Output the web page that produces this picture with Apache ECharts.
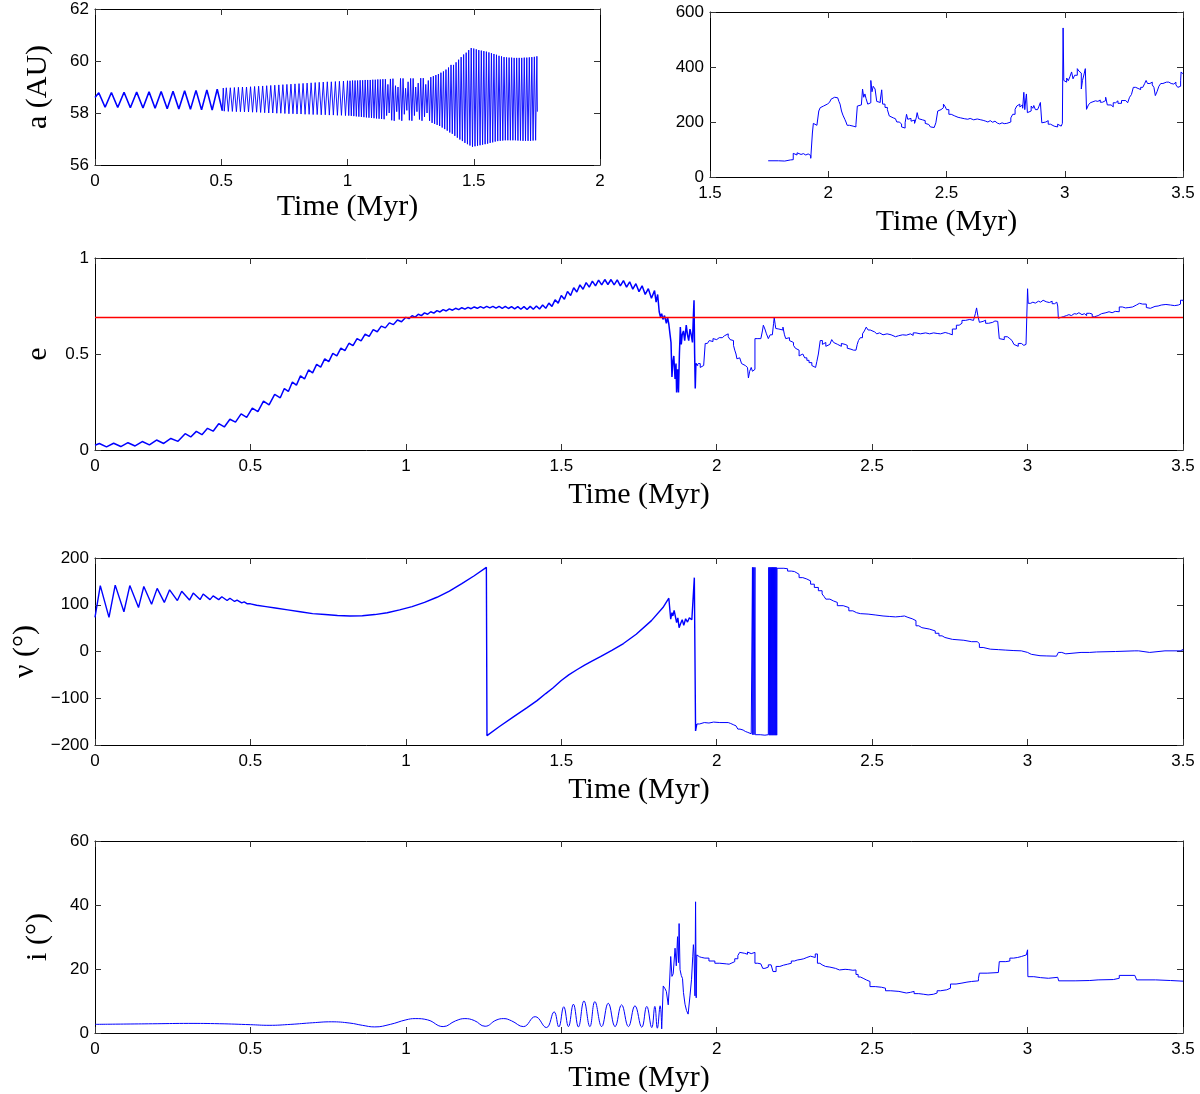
<!DOCTYPE html>
<html><head><meta charset="utf-8">
<script src="https://cdn.jsdelivr.net/npm/echarts@6/dist/echarts.min.js"></script>
<style>html,body{margin:0;padding:0;background:#fff}#c{width:1200px;height:1094px}</style>
</head><body><div id="c"></div><script>
// ---- data (time in Myr, value) ----
const aEarly = [[0,58.6],[0.015,58.78],[0.04,58.22],[0.065,58.79],[0.09,58.21],[0.115,58.8],[0.14,58.2],[0.165,58.81],[0.19,58.19],[0.214,58.82],[0.238,58.18],[0.262,58.83],[0.286,58.16],[0.309,58.84],[0.332,58.15],[0.355,58.86],[0.378,58.14],[0.4,58.87],[0.422,58.12],[0.443,58.89],[0.464,58.11],[0.484,58.92],[0.504,58.09]];

const aBand = [[0.504,58.09],[0.508,58.96],[0.512,58.07],[0.52,58.97],[0.528,58.06],[0.536,58.97],[0.544,58.06],[0.552,58.98],[0.56,58.05],[0.568,58.99],[0.576,58.05],[0.584,59.0],[0.592,58.04],[0.6,59.0],[0.608,58.04],[0.616,59.01],[0.624,58.03],[0.632,59.02],[0.64,58.03],[0.648,59.03],[0.656,58.02],[0.664,59.04],[0.672,58.01],[0.68,59.05],[0.688,58.0],[0.696,59.06],[0.704,58.0],[0.712,59.07],[0.72,57.99],[0.728,59.08],[0.736,57.99],[0.744,59.09],[0.752,57.98],[0.76,59.1],[0.768,57.97],[0.776,59.11],[0.784,57.97],[0.792,59.12],[0.8,57.96],[0.808,59.13],[0.816,57.96],[0.824,59.14],[0.832,57.95],[0.84,59.15],[0.848,57.95],[0.856,59.16],[0.864,57.94],[0.872,59.17],[0.88,57.94],[0.888,59.18],[0.896,57.93],[0.904,59.19],[0.912,57.93],[0.92,59.2],[0.928,57.92],[0.936,59.2],[0.944,57.92],[0.952,59.21],[0.96,57.91],[0.968,59.22],[0.976,57.91],[0.984,59.23],[0.992,57.9],[1.0,59.24],[1.005,57.9],[1.01,59.24],[1.015,57.89],[1.02,59.25],[1.025,57.88],[1.03,59.25],[1.035,57.87],[1.04,59.25],[1.045,57.86],[1.05,59.26],[1.055,57.85],[1.06,59.26],[1.065,57.84],[1.07,59.27],[1.075,57.83],[1.08,59.27],[1.085,57.82],[1.09,59.27],[1.095,57.81],[1.1,59.28],[1.105,57.8],[1.11,59.28],[1.115,57.79],[1.12,59.29],[1.125,57.78],[1.13,59.29],[1.135,57.77],[1.14,59.3],[1.145,57.76],[1.15,59.3],[1.155,57.9],[1.16,59.1],[1.165,58.0],[1.17,59.31],[1.175,57.72],[1.18,59.32],[1.185,57.7],[1.19,59.05],[1.195,58.05],[1.2,59.0],[1.205,57.75],[1.21,59.33],[1.215,57.7],[1.22,59.33],[1.225,57.95],[1.23,58.95],[1.235,58.1],[1.24,59.2],[1.245,57.72],[1.25,59.33],[1.255,57.7],[1.26,59.33],[1.265,57.9],[1.27,59.0],[1.275,58.05],[1.28,59.15],[1.285,57.75],[1.29,59.34],[1.295,57.7],[1.3,59.34],[1.305,57.85],[1.31,59.1],[1.315,58.0],[1.32,59.25],[1.325,57.7],[1.33,59.38],[1.335,57.62],[1.34,59.42],[1.345,57.58],[1.35,59.46],[1.355,57.54],[1.36,59.5],[1.365,57.5],[1.37,59.55],[1.375,57.44],[1.38,59.6],[1.385,57.38],[1.39,59.67],[1.395,57.32],[1.4,59.75],[1.405,57.25],[1.41,59.85],[1.415,57.2],[1.42,59.85],[1.425,57.12],[1.43,59.95],[1.435,57.05],[1.44,60.05],[1.445,56.98],[1.45,60.15],[1.455,56.92],[1.46,60.25],[1.465,56.85],[1.47,60.32],[1.475,56.8],[1.48,60.42],[1.485,56.75],[1.49,60.5],[1.495,56.7],[1.5,60.48],[1.505,56.72],[1.51,60.45],[1.515,56.74],[1.52,60.42],[1.525,56.76],[1.53,60.4],[1.535,56.78],[1.54,60.38],[1.545,56.8],[1.55,60.36],[1.555,56.82],[1.56,60.33],[1.565,56.85],[1.57,60.3],[1.575,56.87],[1.58,60.27],[1.585,56.9],[1.59,60.24],[1.595,56.92],[1.6,60.2],[1.605,56.93],[1.61,60.18],[1.615,56.94],[1.62,60.15],[1.625,56.95],[1.63,60.14],[1.635,56.95],[1.64,60.13],[1.645,56.95],[1.65,60.13],[1.655,56.95],[1.66,60.12],[1.665,56.95],[1.67,60.12],[1.675,56.94],[1.68,60.12],[1.685,56.94],[1.69,60.12],[1.695,56.93],[1.7,60.13],[1.705,56.93],[1.71,60.13],[1.715,56.93],[1.72,60.14],[1.725,56.93],[1.73,60.15],[1.735,56.94],[1.74,60.16],[1.745,56.95],[1.75,60.18],[1.752,58.05]];

const aLate = [[1.746,59],[1.79,58],[1.816,62],[1.84,63],[1.852,86],[1.86,80],[1.868,88],[1.875,82],[1.885,85],[1.895,80],[1.905,84],[1.915,78],[1.926,68],[1.93,75],[1.933,160],[1.937,195],[1.945,188],[1.952,192],[1.957,190],[1.96,240],[1.966,252],[1.972,258],[1.98,262],[1.988,265],[1.996,271],[2.005,278],[2.012,283],[2.02,290],[2.027,296],[2.033,288],[2.04,292],[2.045,275],[2.05,265],[2.056,240],[2.062,225],[2.07,210],[2.075,200],[2.08,188],[2.09,192],[2.097,185],[2.105,178],[2.11,182],[2.117,190],[2.123,258],[2.13,262],[2.14,260],[2.145,320],[2.15,290],[2.155,302],[2.16,285],[2.167,265],[2.172,270],[2.18,351],[2.185,310],[2.19,330],[2.198,320],[2.205,275],[2.21,271],[2.22,280],[2.226,317],[2.23,265],[2.24,253],[2.25,245],[2.258,222],[2.265,215],[2.275,212],[2.284,213],[2.29,200],[2.3,193],[2.31,182],[2.318,178],[2.325,197],[2.331,228],[2.336,210],[2.342,213],[2.35,203],[2.358,207],[2.365,195],[2.372,215],[2.376,234],[2.382,212],[2.39,208],[2.398,203],[2.404,205],[2.41,195],[2.418,191],[2.425,185],[2.432,182],[2.44,180],[2.448,183],[2.455,197],[2.463,240],[2.47,245],[2.477,252],[2.487,265],[2.495,255],[2.5,245],[2.51,228],[2.52,222],[2.535,217],[2.549,215],[2.56,212],[2.575,210],[2.59,213],[2.6,208],[2.615,211],[2.63,208],[2.645,206],[2.655,203],[2.666,200],[2.675,205],[2.685,199],[2.695,203],[2.705,196],[2.715,193],[2.725,197],[2.735,194],[2.744,195],[2.755,190],[2.762,200],[2.772,215],[2.78,228],[2.79,246],[2.797,258],[2.803,265],[2.81,255],[2.816,262],[2.822,250],[2.827,308],[2.831,245],[2.836,290],[2.838,302],[2.842,234],[2.85,240],[2.858,258],[2.865,250],[2.869,260],[2.876,245],[2.885,240],[2.89,255],[2.897,271],[2.9,265],[2.903,197],[2.91,200],[2.92,205],[2.93,192],[2.94,197],[2.947,185],[2.955,190],[2.962,182],[2.97,192],[2.978,185],[2.985,192],[2.99,195],[2.993,542],[2.996,351],[3.0,345],[3.008,360],[3.015,350],[3.022,365],[3.029,382],[3.035,357],[3.042,370],[3.053,394],[3.06,385],[3.066,378],[3.07,320],[3.075,351],[3.082,375],[3.087,394],[3.092,246],[3.1,262],[3.108,270],[3.115,277],[3.13,275],[3.14,280],[3.15,272],[3.16,278],[3.173,290],[3.18,262],[3.196,255],[3.205,270],[3.215,277],[3.225,268],[3.24,278],[3.258,280],[3.266,270],[3.274,290],[3.282,300],[3.29,326],[3.3,322],[3.31,318],[3.321,326],[3.33,330],[3.338,340],[3.344,351],[3.35,340],[3.36,345],[3.37,335],[3.377,326],[3.383,296],[3.39,310],[3.398,330],[3.406,340],[3.415,345],[3.43,345],[3.44,340],[3.45,338],[3.461,345],[3.47,335],[3.478,326],[3.484,330],[3.49,350],[3.492,382],[3.497,375],[3.5,378]];

const eOsc = [[0,0.025],[0.014,0.034],[0.037,0.016],[0.06,0.035],[0.083,0.018],[0.106,0.038],[0.129,0.021],[0.152,0.044],[0.175,0.027],[0.198,0.052],[0.221,0.034],[0.244,0.06],[0.267,0.045],[0.29,0.085],[0.308,0.068],[0.326,0.097],[0.344,0.08],[0.362,0.113],[0.38,0.098],[0.398,0.137],[0.416,0.12],[0.434,0.16],[0.452,0.145],[0.47,0.188],[0.488,0.17],[0.506,0.218],[0.524,0.2],[0.542,0.255],[0.56,0.235],[0.578,0.29],[0.596,0.272],[0.609,0.32],[0.622,0.305],[0.635,0.354],[0.648,0.338],[0.661,0.386],[0.674,0.37],[0.687,0.417],[0.7,0.402],[0.713,0.446],[0.726,0.432],[0.739,0.475],[0.752,0.46],[0.765,0.503],[0.778,0.49],[0.791,0.531],[0.804,0.518],[0.817,0.556],[0.83,0.544],[0.843,0.58],[0.856,0.568],[0.869,0.603],[0.882,0.592],[0.895,0.627],[0.908,0.616],[0.921,0.645],[0.934,0.636],[0.947,0.662],[0.96,0.653],[0.973,0.677],[0.986,0.668],[1.0,0.691],[1.01,0.684],[1.02,0.699],[1.03,0.692],[1.04,0.707],[1.05,0.7],[1.06,0.714],[1.07,0.707],[1.08,0.72],[1.09,0.713],[1.1,0.726],[1.11,0.719],[1.12,0.731],[1.13,0.724],[1.14,0.735],[1.15,0.728],[1.16,0.738],[1.17,0.731],[1.18,0.741],[1.19,0.734],[1.2,0.743],[1.21,0.736],[1.22,0.745],[1.23,0.738],[1.24,0.747],[1.25,0.739],[1.26,0.748],[1.27,0.74],[1.28,0.748],[1.29,0.739],[1.3,0.748],[1.31,0.738],[1.32,0.748],[1.33,0.737],[1.34,0.747],[1.35,0.735],[1.36,0.747],[1.37,0.733],[1.38,0.747],[1.39,0.732],[1.4,0.748],[1.41,0.733],[1.42,0.75],[1.43,0.734],[1.44,0.755],[1.45,0.738],[1.46,0.765],[1.47,0.748],[1.48,0.782],[1.49,0.765],[1.5,0.805],[1.51,0.785],[1.52,0.826],[1.53,0.805],[1.54,0.845],[1.55,0.823],[1.56,0.86],[1.57,0.837],[1.58,0.872],[1.59,0.848],[1.6,0.88],[1.61,0.855],[1.62,0.885],[1.63,0.86],[1.64,0.888],[1.65,0.862],[1.66,0.888],[1.67,0.86],[1.68,0.886],[1.69,0.855],[1.7,0.882],[1.71,0.848],[1.72,0.876],[1.73,0.838],[1.74,0.866],[1.75,0.825],[1.76,0.855],[1.77,0.81],[1.78,0.84],[1.79,0.79],[1.8,0.83],[1.805,0.77],[1.81,0.81],[1.815,0.72],[1.819,0.694],[1.823,0.71],[1.827,0.68],[1.832,0.7],[1.838,0.66],[1.842,0.69],[1.846,0.655],[1.85,0.6],[1.853,0.56],[1.856,0.38],[1.859,0.46],[1.862,0.49],[1.866,0.37],[1.869,0.45],[1.871,0.3],[1.874,0.42],[1.877,0.3],[1.88,0.5],[1.883,0.64],[1.886,0.55],[1.889,0.6],[1.893,0.62],[1.897,0.57],[1.902,0.65],[1.906,0.6],[1.91,0.57],[1.914,0.63],[1.918,0.6],[1.922,0.56],[1.925,0.7],[1.927,0.78],[1.929,0.5],[1.931,0.32],[1.933,0.45],[1.936,0.46],[1.94,0.44]];

const eLate = [[1.94,0.45],[1.947,0.43],[1.953,0.44],[1.958,0.43],[1.963,0.555],[1.97,0.56],[1.976,0.57],[1.981,0.565],[1.988,0.58],[1.994,0.575],[2.0,0.585],[2.008,0.59],[2.014,0.585],[2.018,0.595],[2.025,0.6],[2.031,0.605],[2.037,0.59],[2.043,0.575],[2.049,0.57],[2.054,0.545],[2.058,0.52],[2.062,0.5],[2.065,0.475],[2.07,0.48],[2.074,0.47],[2.08,0.45],[2.086,0.44],[2.092,0.43],[2.099,0.42],[2.102,0.375],[2.106,0.41],[2.111,0.43],[2.115,0.41],[2.12,0.42],[2.123,0.58],[2.13,0.585],[2.136,0.58],[2.142,0.59],[2.147,0.62],[2.15,0.65],[2.155,0.63],[2.16,0.605],[2.166,0.58],[2.172,0.6],[2.179,0.61],[2.183,0.66],[2.185,0.69],[2.188,0.655],[2.19,0.633],[2.196,0.63],[2.2,0.62],[2.206,0.625],[2.213,0.64],[2.218,0.6],[2.222,0.58],[2.228,0.585],[2.234,0.57],[2.24,0.56],[2.247,0.545],[2.253,0.53],[2.259,0.52],[2.265,0.49],[2.271,0.5],[2.277,0.505],[2.283,0.48],[2.29,0.467],[2.297,0.455],[2.306,0.44],[2.312,0.43],[2.318,0.43],[2.322,0.46],[2.327,0.5],[2.333,0.57],[2.34,0.55],[2.346,0.56],[2.351,0.54],[2.357,0.55],[2.364,0.555],[2.37,0.575],[2.376,0.56],[2.382,0.55],[2.389,0.545],[2.395,0.54],[2.401,0.555],[2.407,0.55],[2.413,0.545],[2.42,0.53],[2.426,0.525],[2.432,0.52],[2.44,0.52],[2.448,0.523],[2.452,0.55],[2.456,0.57],[2.462,0.585],[2.469,0.605],[2.475,0.62],[2.481,0.64],[2.487,0.625],[2.494,0.615],[2.5,0.615],[2.508,0.605],[2.515,0.61],[2.524,0.6],[2.535,0.605],[2.548,0.6],[2.561,0.59],[2.575,0.595],[2.585,0.6],[2.598,0.598],[2.61,0.605],[2.623,0.597],[2.632,0.61],[2.641,0.605],[2.655,0.61],[2.672,0.605],[2.685,0.61],[2.698,0.607],[2.709,0.605],[2.72,0.612],[2.735,0.607],[2.746,0.6],[2.758,0.63],[2.771,0.65],[2.78,0.66],[2.789,0.675],[2.8,0.68],[2.814,0.686],[2.82,0.675],[2.826,0.67],[2.832,0.71],[2.836,0.74],[2.84,0.7],[2.845,0.665],[2.85,0.67],[2.857,0.676],[2.865,0.66],[2.875,0.65],[2.88,0.665],[2.888,0.672],[2.895,0.67],[2.904,0.668],[2.909,0.58],[2.915,0.575],[2.925,0.59],[2.935,0.58],[2.943,0.57],[2.95,0.575],[2.956,0.55],[2.962,0.54],[2.97,0.555],[2.98,0.545],[2.988,0.55],[2.995,0.545],[3.0,0.84],[3.002,0.764],[3.01,0.77],[3.017,0.765],[3.025,0.775],[3.035,0.77],[3.042,0.78],[3.05,0.772],[3.06,0.768],[3.07,0.775],[3.079,0.762],[3.087,0.77],[3.094,0.78],[3.097,0.75],[3.099,0.686],[3.105,0.695],[3.116,0.7],[3.125,0.705],[3.133,0.7],[3.141,0.71],[3.15,0.708],[3.158,0.715],[3.165,0.705],[3.175,0.71],[3.183,0.7],[3.19,0.712],[3.2,0.708],[3.208,0.694],[3.215,0.7],[3.227,0.71],[3.238,0.715],[3.252,0.72],[3.262,0.715],[3.272,0.722],[3.282,0.72],[3.295,0.745],[3.305,0.74],[3.315,0.742],[3.326,0.745],[3.338,0.755],[3.35,0.764],[3.36,0.76],[3.37,0.758],[3.375,0.76],[3.382,0.742],[3.387,0.738],[3.395,0.745],[3.4,0.748],[3.41,0.75],[3.42,0.755],[3.43,0.758],[3.445,0.755],[3.46,0.752],[3.473,0.755],[3.485,0.76],[3.492,0.78],[3.5,0.775]];

const eCritical = 0.69;

const nuEarly = [[0,73],[0.017,141],[0.045,73],[0.065,142],[0.093,85],[0.112,141],[0.14,94],[0.157,139],[0.182,101],[0.2,135],[0.223,105],[0.24,132],[0.265,109],[0.279,129],[0.304,110],[0.316,125],[0.338,111],[0.348,123],[0.37,111],[0.38,119],[0.398,111],[0.408,117],[0.425,109],[0.434,114],[0.449,107],[0.457,110],[0.472,104],[0.48,106],[0.49,102],[0.5,102],[0.52,99],[0.55,96],[0.58,93],[0.62,89],[0.66,85],[0.7,81],[0.74,79],[0.78,77],[0.82,76],[0.86,76.5],[0.9,79],[0.94,83],[0.98,89],[1.02,96],[1.06,105],[1.1,116],[1.14,129],[1.18,145],[1.22,162],[1.259,180],[1.261,-180],[1.3,-161],[1.346,-140],[1.39,-120],[1.422,-105],[1.45,-90],[1.473,-78],[1.5,-62],[1.524,-50],[1.55,-39],[1.575,-29],[1.6,-20],[1.626,-11],[1.664,3],[1.7,17],[1.741,37],[1.79,66],[1.827,94],[1.846,114],[1.852,69],[1.856,83],[1.859,76],[1.863,88],[1.871,62],[1.875,72],[1.879,51],[1.884,60],[1.889,68],[1.894,56],[1.9,70],[1.906,63],[1.912,72],[1.92,68],[1.926,69],[1.928,158],[1.932,-170],[1.936,-155]];

const nuLate = [[1.936,-155],[1.945,-152],[1.96,-153],[1.975,-151],[1.99,-152],[2.01,-152],[2.037,-154],[2.045,-157],[2.055,-159],[2.062,-163],[2.068,-166],[2.075,-168],[2.085,-171],[2.092,-173],[2.1,-176],[2.111,-178],[2.115,180],[2.116,-178],[2.119,180],[2.12,-178],[2.123,180],[2.124,-178],[2.14,-179],[2.155,-178],[2.166,-178],[2.1675,180],[2.169,-179],[2.1705,180],[2.172,-179],[2.1735,180],[2.175,-179],[2.1765,180],[2.178,-179],[2.1795,180],[2.181,-179],[2.1825,180],[2.184,-179],[2.1855,180],[2.187,-179],[2.1885,180],[2.19,-179],[2.1915,180],[2.193,-179],[2.194,178],[2.216,177],[2.228,172],[2.24,171],[2.25,168],[2.258,165],[2.265,158],[2.277,155],[2.29,151],[2.302,144],[2.314,137],[2.327,130],[2.339,123],[2.345,118],[2.351,112],[2.364,108],[2.376,105],[2.388,98],[2.407,94],[2.425,87],[2.438,83],[2.45,81],[2.462,80],[2.487,78],[2.512,76],[2.535,75],[2.555,74],[2.575,75],[2.592,76],[2.604,73],[2.615,70],[2.629,66],[2.641,55],[2.65,51],[2.66,48],[2.684,44],[2.703,39],[2.715,33.5],[2.725,30],[2.734,26],[2.758,24],[2.795,21],[2.82,21],[2.838,17],[2.845,8.6],[2.857,5],[2.88,4],[2.906,3],[2.93,2],[2.956,1.4],[2.98,-2],[3.0,-6],[3.012,-9],[3.04,-9.5],[3.062,-10],[3.093,-11],[3.099,-2],[3.11,-5],[3.123,-2],[3.172,-2],[3.2,-1],[3.222,0],[3.283,1.4],[3.345,1.4],[3.357,-2],[3.393,1.4],[3.442,1.4],[3.491,4],[3.5,2]];

const incSmooth = [[0,2.7],[0.1,2.8],[0.2,2.9],[0.3,3.0],[0.4,2.9],[0.5,2.6],[0.56,2.4],[0.63,2.7],[0.7,3.2],[0.76,3.5],[0.82,3.1],[0.86,2.4],[0.9,1.9],[0.95,2.7],[1.0,4.1],[1.03,4.5],[1.07,4.1],[1.12,2.0],[1.16,3.8],[1.19,4.5],[1.22,3.9],[1.255,2.1],[1.29,4.0],[1.315,4.5],[1.34,3.8],[1.378,2.0],[1.416,5.1],[1.452,1.7],[1.477,6.6],[1.492,1.9],[1.508,8.2],[1.523,2.0],[1.539,9.0],[1.555,1.9],[1.573,10.0],[1.592,2.0],[1.608,9.8],[1.63,2.0],[1.651,9.3],[1.673,2.0],[1.694,8.8],[1.716,2.0],[1.737,8.5],[1.759,1.8],[1.775,8.3],[1.791,1.7],[1.801,8.3],[1.809,1.5],[1.818,8.5],[1.823,1.3]];

const incSpiky = [[1.823,1.3],[1.828,14.7],[1.834,13.8],[1.838,13.0],[1.844,8.8],[1.848,15],[1.852,23.9],[1.856,17.7],[1.86,18.5],[1.866,26.5],[1.87,21],[1.874,30.1],[1.877,22],[1.879,34.2],[1.882,19.8],[1.886,18],[1.89,17],[1.893,12.7],[1.898,9],[1.903,7.0],[1.908,5.9],[1.914,11.6],[1.919,16.8],[1.923,24],[1.925,27.6],[1.927,25],[1.93,11.6],[1.932,41.0],[1.934,11],[1.936,24.4],[1.945,23.8],[1.952,23.6],[1.962,23.4]];

const incLate = [[1.962,23.4],[1.975,22.5],[1.994,21.8],[2.01,21.6],[2.031,21.5],[2.04,21.9],[2.049,22.3],[2.058,23.2],[2.068,24.2],[2.074,25.2],[2.08,24.9],[2.09,24.6],[2.099,25.3],[2.105,24.8],[2.111,25.2],[2.123,21.8],[2.132,21.6],[2.142,21.3],[2.148,20.2],[2.155,20.6],[2.166,21.3],[2.175,21.0],[2.181,19.2],[2.191,20.8],[2.203,21.2],[2.215,21.5],[2.228,21.8],[2.24,22.5],[2.25,22.8],[2.259,23.4],[2.265,23.0],[2.271,23.2],[2.28,23.6],[2.29,24.0],[2.302,23.6],[2.317,24.7],[2.324,21.8],[2.332,21.3],[2.339,20.8],[2.35,20.6],[2.364,20.2],[2.382,19.7],[2.395,19.9],[2.413,19.8],[2.425,19.6],[2.438,19.7],[2.448,18.3],[2.455,17.5],[2.462,17.1],[2.471,16.6],[2.481,16.1],[2.493,14.5],[2.51,14.3],[2.53,14.0],[2.543,13.2],[2.56,13.0],[2.586,12.5],[2.61,12.7],[2.623,13.0],[2.635,12.3],[2.65,12.1],[2.666,11.9],[2.68,12.1],[2.697,12.5],[2.709,13.2],[2.72,13.5],[2.74,14.0],[2.752,15.3],[2.77,15.6],[2.789,15.9],[2.805,16.1],[2.82,16.3],[2.842,17.1],[2.845,18.7],[2.87,18.9],[2.906,19.0],[2.909,22.3],[2.93,22.5],[2.943,23.4],[2.955,23.6],[2.968,23.9],[2.98,24.4],[2.996,24.6],[3.0,26],[3.001,17.6],[3.02,17.3],[3.042,17.1],[3.067,17.4],[3.097,17.6],[3.1,16.3],[3.153,16.4],[3.2,16.6],[3.227,16.7],[3.276,17.1],[3.295,18.0],[3.345,18.0],[3.351,16.6],[3.412,16.4],[3.46,16.2],[3.5,16.1]];

// axis ranges [min, max, interval]
const xRanges = [[0,2,0.5],[1.5,3.5,0.5],[0,3.5,0.5],[0,3.5,0.5],[0,3.5,0.5]];
const yRanges = [[56,62,2],[0,600,200],[0,1,0.5],[-200,200,100],[0,60,20]];
const yTitles = ['a (AU)','','e','\u03bd (\u00b0)','i (\u00b0)'];
const xTitle = 'Time (Myr)';

// critical-eccentricity line spanning the e panel's time range
const eCriticalLine = [[xRanges[2][0], eCritical], [xRanges[2][1], eCritical]];

// ---- layout ----
const grids = [
  {left:95, top:9, width:505, height:156},
  {left:710, top:12, width:473, height:165},
  {left:95, top:258, width:1088, height:192},
  {left:95, top:558, width:1088, height:187},
  {left:95, top:841, width:1088, height:192}
];
const xNameGaps = [27, 30, 30, 30, 30];
const fmt = v => (v < 0 ? '\u2212' + Math.abs(v) : String(v));
const xAxes = [], yAxes = [];
grids.forEach((g, k) => {
  ['bottom','top'].forEach(pos => {
    const main = pos === 'bottom';
    xAxes.push({type:'value', gridIndex:k, position:pos, min:xRanges[k][0], max:xRanges[k][1], interval:xRanges[k][2],
      axisLine:{show:true, onZero:false, lineStyle:{color:'#000', width:1}},
      axisTick:{show:true, inside:true, length:6, lineStyle:{color:'#333', width:1}},
      axisLabel:{show:main, color:'#000', fontFamily:'Liberation Sans', fontSize:17, margin:8, formatter:fmt},
      splitLine:{show:false},
      name: main ? xTitle : '', nameLocation:'middle', nameGap:xNameGaps[k],
      nameTextStyle:{fontFamily:'Liberation Serif', fontSize:30, color:'#000'}});
  });
  ['left','right'].forEach(pos => {
    const main = pos === 'left';
    yAxes.push({type:'value', gridIndex:k, position:pos, min:yRanges[k][0], max:yRanges[k][1], interval:yRanges[k][2],
      axisLine:{show:true, onZero:false, lineStyle:{color:'#000', width:1}},
      axisTick:{show:true, inside:true, length:6, lineStyle:{color:'#333', width:1}},
      axisLabel:{show:main, color:'#000', fontFamily:'Liberation Sans', fontSize:17, margin:6, formatter:fmt},
      splitLine:{show:false},
      name: main ? yTitles[k] : '', nameLocation:'middle', nameGap:42,
      nameTextStyle:{fontFamily:'Liberation Serif', fontSize:30, color:'#000'}});
  });
});
const BLUE = '#0000ff';
const RED = '#ff0000';
function line(data, k, col, width, extra) {
  return Object.assign({type:'line', xAxisIndex:2*k, yAxisIndex:2*k, data:data, symbol:'none', showSymbol:false,
    silent:true, animation:false, clip:true, emphasis:{disabled:true},
    itemStyle:{color:col}, lineStyle:{color:col, width:width, opacity:1}}, extra || {});
}
const series = [
  line(aEarly, 0, BLUE, 1.6),
  line(aBand, 0, BLUE, 0.9),
  line(aLate, 1, BLUE, 1, {step:'end'}),
  line(eOsc, 2, BLUE, 1.5),
  line(eLate, 2, BLUE, 1, {step:'end'}),
  line(eCriticalLine, 2, RED, 1.3, {z:5}),
  line(nuEarly, 3, BLUE, 1.4),
  line(nuLate, 3, BLUE, 1, {step:'end'}),
  line(incSmooth, 4, BLUE, 1, {smooth:0.45}),
  line(incSpiky, 4, BLUE, 1),
  line(incLate, 4, BLUE, 1, {step:'end'})
];
const chart = echarts.init(document.getElementById('c'), null, {renderer:'canvas'});
chart.setOption({animation:false, backgroundColor:'#fff', grid:grids, xAxis:xAxes, yAxis:yAxes, series:series});
</script></body></html>
